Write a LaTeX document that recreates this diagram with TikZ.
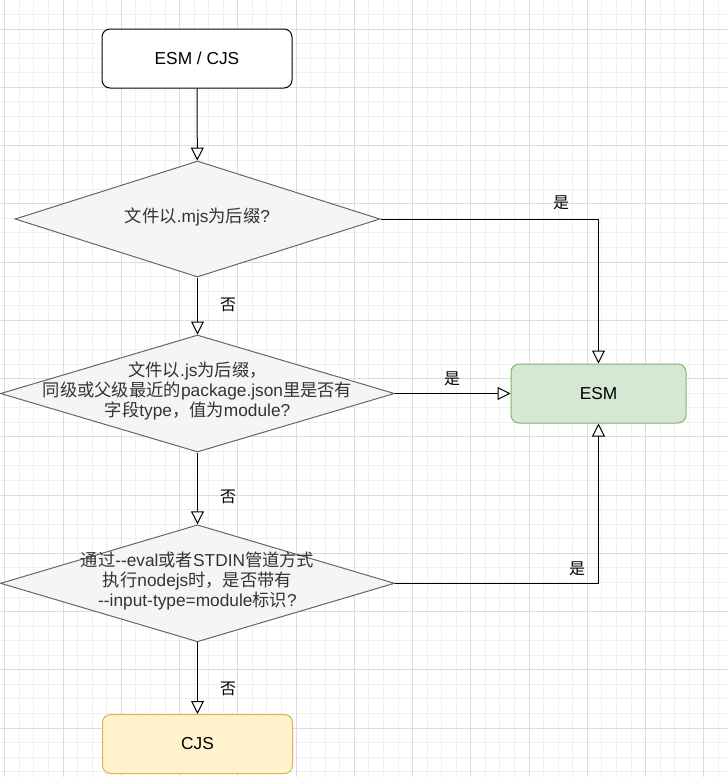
\documentclass[tikz,border=0pt]{standalone}
\usepackage{fontspec}
\setmainfont{Liberation Sans}
\newfontfamily\cjk{Noto Sans CJK SC}
\newcommand\zh[1]{{\cjk #1}}
\usetikzlibrary{arrows.meta,shapes.geometric}

\definecolor{gridminor}{HTML}{F0F0F0}
\definecolor{gridmajor}{HTML}{DCDCDC}
\definecolor{decfill}{HTML}{F5F5F5}
\definecolor{decline}{HTML}{666666}
\definecolor{dectext}{HTML}{333333}
\definecolor{esmfill}{HTML}{D5E8D4}
\definecolor{esmline}{HTML}{82B366}
\definecolor{cjsfill}{HTML}{FFF2CC}
\definecolor{cjsline}{HTML}{D6B656}

\tikzset{
  roundbox/.style={draw, rounded corners=8pt, line width=1pt,
    minimum width=190pt, minimum height=59pt, inner sep=0pt,
    font=\fontsize{17.3}{20}\selectfont},
  startbox/.style={roundbox, draw=black, fill=white},
  esmbox/.style={roundbox, draw=esmline, fill=esmfill, minimum width=175pt},
  cjsbox/.style={roundbox, draw=cjsline, fill=cjsfill},
  decision/.style={diamond, draw=decline, fill=decfill, line width=1pt,
    inner sep=0pt},
  dectxt/.style={align=center, text=dectext, inner sep=0pt,
    font=\fontsize{17.3}{20}\selectfont},
  edgelabel/.style={inner sep=0pt, font=\cjk\fontsize{16}{18}\selectfont},
  flow/.style={line width=1pt, draw=black,
    -{Triangle[open, length=13pt, width=13pt, fill=white]}},
}

\begin{document}
\begin{tikzpicture}[x=1pt, y=-1pt]
\useasboundingbox (0,0) rectangle (728,777);
\fill[white] (0,0) rectangle (728,777);

% background grid
\foreach \k in {0,...,49}
  \draw[gridminor, line width=0.8pt] ({4.75+\k*14.5625},0) -- ++(0,777);
\foreach \j in {1,...,53}
  \draw[gridminor, line width=0.8pt] (0,{-0.125+\j*14.5625}) -- ++(728,0);
\foreach \k in {0,...,12}
  \draw[gridmajor, line width=0.8pt] ({4.75+\k*58.25},0) -- ++(0,777);
\foreach \j in {0,...,12}
  \draw[gridmajor, line width=0.8pt] (0,{29+\j*58.25}) -- ++(728,0);

% boxes
\node[startbox] (start) at (197,58.5) {ESM / CJS};
\node[esmbox] (esm) at (598.5,393.5) {ESM};
\node[cjsbox] (cjs) at (197.5,744) {CJS};

% decisions
\node[decision, minimum width=365pt, minimum height=116pt] (d1) at (197.5,219) {};
\node[dectxt] (d1t) at (197.5,217) {\zh{文件以}.mjs\zh{为后缀}?};

\node[decision, minimum width=394pt, minimum height=117pt] (d2) at (197.5,393.5) {};
\node[dectxt] (d2t) at (197.5,391) {\zh{文件以}.js\zh{为后缀，}\\
  \zh{同级或父级最近的}package.json\zh{里是否有}\\
  \zh{字段}type\zh{，值为}module?};

\node[decision, minimum width=394pt, minimum height=117pt] (d3) at (197.5,583.3) {};
\node[dectxt] (d3t) at (197.5,581) {\zh{通过}{-}{-}eval\zh{或者}STDIN\zh{管道方式}\\
  \zh{执行}nodejs\zh{时，是否带有}\\
  {-}{-}input-type=module\zh{标识}?};

% connectors
\draw[flow] (start) -- (d1);
\draw[flow] (d1) -- (d2);
\draw[flow] (d2) -- (d3);
\draw[flow] (d3) -- (cjs);
\draw[flow] (d1.east) -| (esm.north);
\draw[flow] (d2.east) -- (esm.west);
\draw[flow] (d3.east) -| (esm.south);

% connector labels
\node[edgelabel] (l1) at (561,203) {是};
\node[edgelabel] (l2) at (452,379) {是};
\node[edgelabel] (l3) at (577,569) {是};
\node[edgelabel] (n1) at (228,305) {否};
\node[edgelabel] (n2) at (228,497) {否};
\node[edgelabel] (n3) at (228,689) {否};
\end{tikzpicture}
\end{document}
